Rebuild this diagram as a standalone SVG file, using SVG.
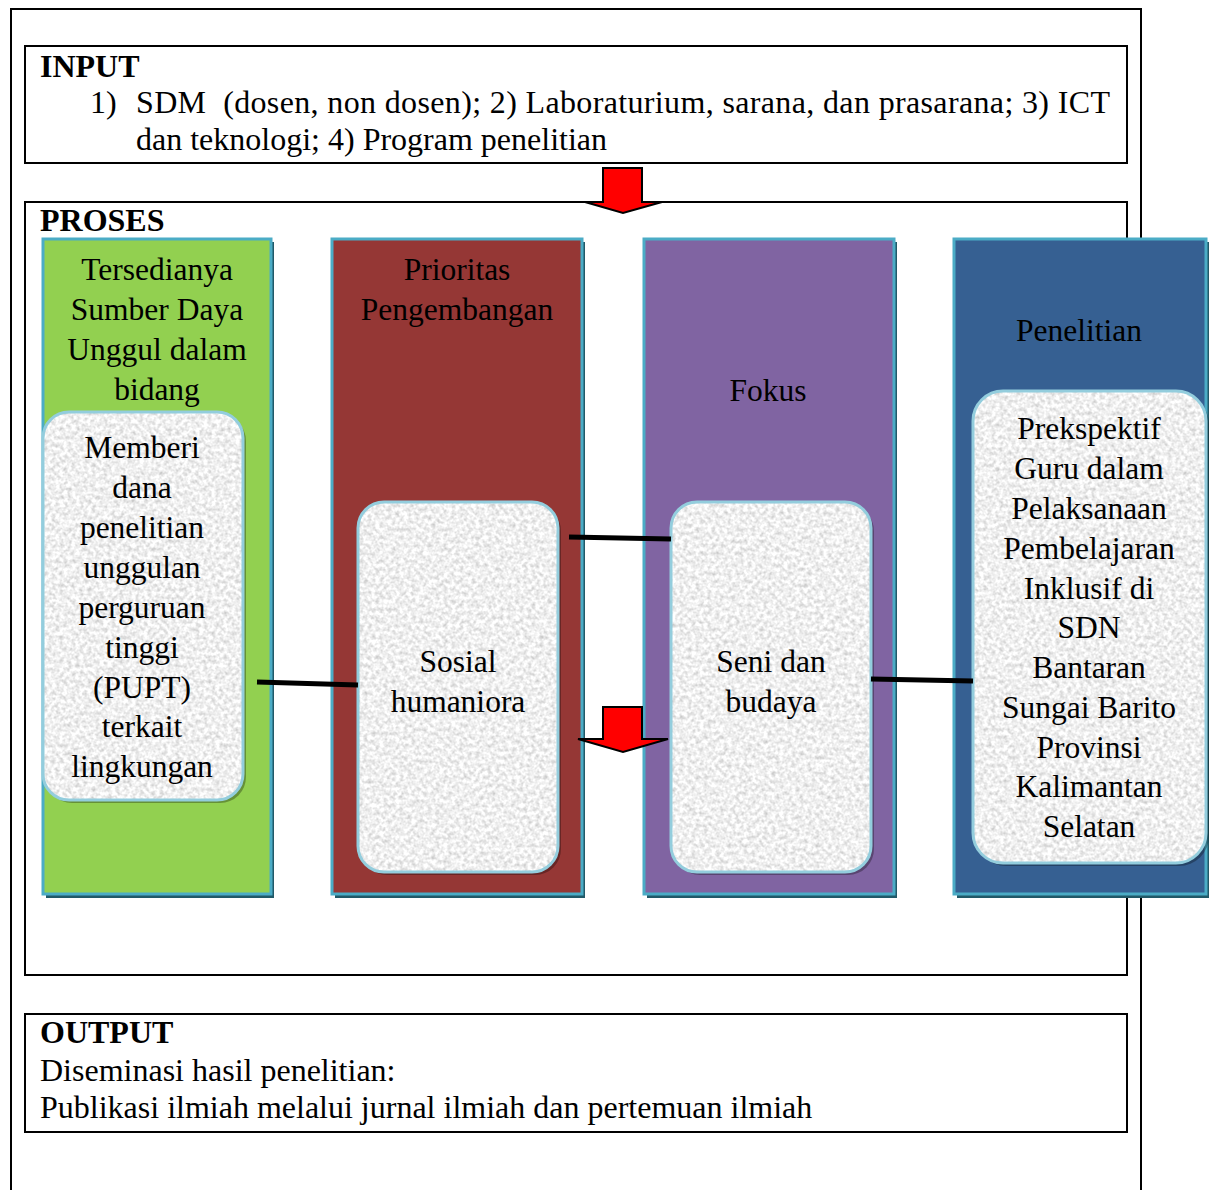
<svg xmlns="http://www.w3.org/2000/svg" width="1209" height="1190" viewBox="0 0 1209 1190">
<style>
.t{font-family:"Liberation Serif","Times New Roman",serif;font-size:32px;fill:#000}
.tc{font-family:"Liberation Serif","Times New Roman",serif;font-size:31.5px;fill:#000;text-anchor:middle}
.b{font-weight:bold}
.box{fill:#fff;stroke:#000;stroke-width:2}
.frame{fill:none;stroke:#000;stroke-width:2}
.col{stroke:#4BACC6;stroke-width:3}
.sh{fill:#215968}
.inner{fill:#ebebeb;filter:url(#granite)}
.iborder{fill:none;stroke:#93CDDD;stroke-width:3}
.ish{fill:#000;fill-opacity:0.3}
.arrow{fill:#FF0000;stroke:#000;stroke-width:2;stroke-linejoin:miter}
.conn{stroke:#000;stroke-width:5;fill:none}
</style>
<defs>
<filter id="granite" x="0" y="0" width="100%" height="100%" color-interpolation-filters="sRGB">
<feTurbulence type="fractalNoise" baseFrequency="0.25" numOctaves="3" seed="7" result="n"/>
<feColorMatrix in="n" type="matrix" values="0.38 0 0 0 0.75  0.38 0 0 0 0.75  0.38 0 0 0 0.75  0 0 0 0 1" result="g"/>
<feComposite in="g" in2="SourceGraphic" operator="in"/>
</filter>
</defs>
<rect width="1209" height="1190" fill="#fff"/>
<path class="frame" d="M11,1190 V9 H1141 V1190"/>

<g id="input">
<rect class="box" x="25" y="46" width="1102" height="117"/>
<text class="t b" x="40" y="77">INPUT</text>
<text class="t" x="90" y="113">1)</text>
<text class="t" x="136" y="113" textLength="974" lengthAdjust="spacing">SDM&#160; (dosen, non dosen); 2) Laboraturium, sarana, dan prasarana; 3) ICT</text>
<text class="t" x="136" y="150">dan teknologi; 4) Program penelitian</text>
</g>

<g id="proses">
<rect class="box" x="25" y="202" width="1102" height="773"/>
<text class="t b" x="40" y="231">PROSES</text>
</g>

<g id="arrow-top">
<polygon class="arrow" points="603,168 642,168 642,202 662,202 623,213 585,202 603,202"/>
</g>

<g id="col-green">
<rect class="sh" x="46" y="242" width="228" height="656"/>
<rect class="col" x="43" y="239" width="228" height="655" fill="#92D050"/>
<text class="tc" x="157"><tspan x="157" y="280">Tersedianya</tspan><tspan x="157" y="320">Sumber Daya</tspan><tspan x="157" y="360">Unggul dalam</tspan><tspan x="157" y="400">bidang</tspan></text>
</g>

<g id="col-red">
<rect class="sh" x="335" y="242" width="250" height="656"/>
<rect class="col" x="332" y="239" width="250" height="655" fill="#953735"/>
<text class="tc"><tspan x="457" y="280">Prioritas</tspan><tspan x="457" y="320">Pengembangan</tspan></text>
</g>

<g id="col-purple">
<rect class="sh" x="647" y="242" width="250" height="656"/>
<rect class="col" x="644" y="239" width="250" height="655" fill="#8064A2"/>
<text class="tc" x="768" y="401">Fokus</text>
</g>

<g id="col-blue">
<rect class="sh" x="957" y="242" width="252" height="656"/>
<rect class="col" x="954" y="239" width="252" height="655" fill="#366092"/>
<text class="tc" x="1079" y="341">Penelitian</text>
</g>

<g id="box-memberi">
<rect class="ish" x="46" y="415" width="200" height="388" rx="26"/>
<rect class="inner" x="43" y="412" width="200" height="388" rx="26"/>
<rect class="iborder" x="43" y="412" width="200" height="388" rx="26"/>
<text class="tc"><tspan x="142" y="458">Memberi</tspan><tspan x="142" y="498">dana</tspan><tspan x="142" y="538">penelitian</tspan><tspan x="142" y="578">unggulan</tspan><tspan x="142" y="618">perguruan</tspan><tspan x="142" y="658">tinggi</tspan><tspan x="142" y="698">(PUPT)</tspan><tspan x="142" y="737">terkait</tspan><tspan x="142" y="777">lingkungan</tspan></text>
</g>

<g id="box-sosial">
<rect class="ish" x="361" y="505" width="200" height="370" rx="26"/>
<rect class="inner" x="358" y="502" width="200" height="370" rx="26"/>
<rect class="iborder" x="358" y="502" width="200" height="370" rx="26"/>
<text class="tc"><tspan x="458" y="672">Sosial</tspan><tspan x="458" y="712">humaniora</tspan></text>
</g>

<g id="box-seni">
<rect class="ish" x="674" y="505" width="200" height="370" rx="26"/>
<rect class="inner" x="671" y="502" width="200" height="370" rx="26"/>
<rect class="iborder" x="671" y="502" width="200" height="370" rx="26"/>
<text class="tc"><tspan x="771" y="672">Seni dan</tspan><tspan x="771" y="712">budaya</tspan></text>
</g>

<g id="box-prekspektif">
<rect class="ish" x="976" y="394" width="233" height="472" rx="30"/>
<rect class="inner" x="973" y="391" width="233" height="472" rx="30"/>
<rect class="iborder" x="973" y="391" width="233" height="472" rx="30"/>
<text class="tc"><tspan x="1089" y="439">Prekspektif</tspan><tspan x="1089" y="479">Guru dalam</tspan><tspan x="1089" y="519">Pelaksanaan</tspan><tspan x="1089" y="559">Pembelajaran</tspan><tspan x="1089" y="599">Inklusif di</tspan><tspan x="1089" y="638">SDN</tspan><tspan x="1089" y="678">Bantaran</tspan><tspan x="1089" y="718">Sungai Barito</tspan><tspan x="1089" y="758">Provinsi</tspan><tspan x="1089" y="797">Kalimantan</tspan><tspan x="1089" y="837">Selatan</tspan></text>
</g>

<g id="connectors">
<line class="conn" x1="257" y1="682" x2="358" y2="685"/>
<line class="conn" x1="569" y1="537" x2="671" y2="539"/>
<line class="conn" x1="871" y1="679" x2="973" y2="681"/>
<polygon class="arrow" points="603,707 642,707 642,739 668,739 623,752 578,739 603,739"/>
</g>

<g id="output">
<rect class="box" x="25" y="1014" width="1102" height="118"/>
<text class="t b" x="40" y="1043">OUTPUT</text>
<text class="t" x="40" y="1081">Diseminasi hasil penelitian:</text>
<text class="t" x="40" y="1118">Publikasi ilmiah melalui jurnal ilmiah dan pertemuan ilmiah</text>
</g>
</svg>
